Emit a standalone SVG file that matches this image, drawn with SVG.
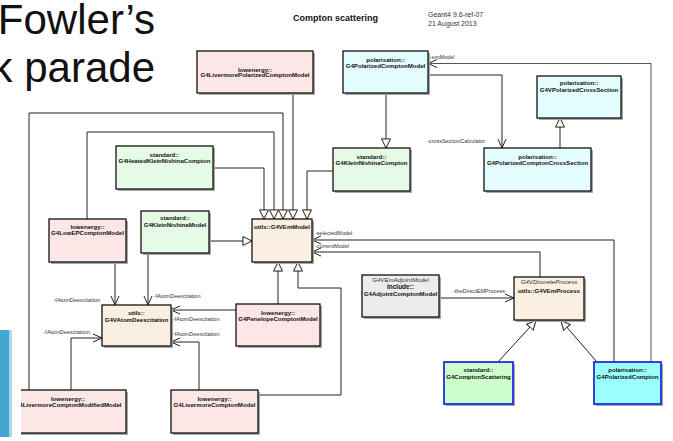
<svg xmlns="http://www.w3.org/2000/svg" width="673" height="441" viewBox="0 0 673 441">
<defs>
<style>
.sh{fill:#a8a8a8}
.b{stroke:#111;stroke-width:1.3}
.bb{stroke:#1f2fe0;stroke-width:1.8}
.pink{fill:#fde6e6}
.green{fill:#e6fbe6}
.cyan{fill:#e4fdfe}
.beige{fill:#faefe0}
.gray{fill:#ececec}
.sgreen{fill:#ccffcc}
.scyan{fill:#9bffff}
.t{font-family:"Liberation Sans",Arial,sans-serif;font-size:6.1px;font-weight:bold;text-anchor:middle;fill:#111}
.it{font-style:italic;font-weight:normal;fill:#333}
.lbl{font-family:"Liberation Sans",Arial,sans-serif;font-size:5.5px;fill:#333}
.c{fill:none;stroke:#222;stroke-width:1}
.g{marker-end:url(#tri)}
.a{marker-end:url(#arr)}
.big{font-family:"Liberation Sans",Arial,sans-serif;font-size:42px;fill:#111;text-anchor:end}
</style>
<marker id="tri" markerUnits="userSpaceOnUse" markerWidth="10" markerHeight="10" viewBox="0 0 10 10" refX="9.6" refY="5" orient="auto"><path d="M0.5,0.5 L9.6,5 L0.5,9.5 Z" fill="#fdf6ea" stroke="#222" stroke-width="1"/></marker>
<marker id="arr" markerUnits="userSpaceOnUse" markerWidth="10" markerHeight="10" viewBox="0 0 10 10" refX="9.5" refY="5" orient="auto"><path d="M0.5,1 L9.5,5 L0.5,9" fill="none" stroke="#222" stroke-width="1"/></marker>
</defs>
<rect width="673" height="441" fill="#fff"/>

<text x="293" y="21" font-family="Liberation Sans,Arial,sans-serif" font-size="9" font-weight="bold" fill="#111">Compton scattering</text>
<text x="428" y="17" font-family="Liberation Sans,Arial,sans-serif" font-size="7" fill="#333">Geant4 9.6-ref-07</text>
<text x="428" y="26" font-family="Liberation Sans,Arial,sans-serif" font-size="7" fill="#333">21 August 2013</text>

<g id="connectors">
<path class="c g" d="M213,168 H264 V219"/>
<path class="c g" d="M87,219 V132 H274 V219"/>
<path class="c g" d="M29,390 V113 H283 V219"/>
<path class="c g" d="M293,93 V219"/>
<path class="c g" d="M333,171 H307 V219"/>
<path class="c g" d="M209,241 H252"/>
<path class="c g" d="M278,304 V262"/>
<path class="c g" d="M258,395 H341 V288 H298 V262"/>
<path class="c g" d="M386,93 V148"/>
<path class="c g" d="M560,148 V118"/>
<path class="c g" d="M498,362 L536,320.5"/>
<path class="c g" d="M597,362 L561,320.5"/>
<path class="c a" d="M614,362 V240 H312"/>
<path class="c a" d="M540,277 V252 H312"/>
<path class="c a" d="M651,362 V63.5 H428" style="stroke:#555"/>
<path class="c a" d="M428,75 H502 V148"/>
<path class="c a" d="M115,262 V305"/>
<path class="c a" d="M148,253 V305"/>
<path class="c a" d="M236,310 H171"/>
<path class="c a" d="M199,390 V342 H171"/>
<path class="c a" d="M71,390 V338 H102"/>
<path class="c a" d="M439,298 H514"/>
<text class="lbl" x="430" y="59">-emModel</text>
<text class="lbl" x="485" y="143" text-anchor="end">-crossSectionCalculator</text>
<text class="lbl" x="315" y="235">-selectedModel</text>
<text class="lbl" x="315" y="248">-currentModel</text>
<text class="lbl" x="100" y="302" text-anchor="end">-fAtomDeexcitation</text>
<text class="lbl" x="154" y="298">-fAtomDeexcitation</text>
<text class="lbl" x="173" y="321">-fAtomDeexcitation</text>
<text class="lbl" x="173" y="336">-fAtomDeexcitation</text>
<text class="lbl" x="90" y="334" text-anchor="end">-fAtomDeexcitation</text>
<text class="lbl" x="453" y="293">-theDirectEMProcess</text>
</g>

<g id="LivermorePolarizedComptonModel"><rect class="sh" x="199" y="53" width="116" height="42"/><rect class="pink b" x="197" y="51" width="116" height="42"/><text class="t" x="255" y="71.5">lowenergy::</text><text class="t" x="255" y="77">G4LivermorePolarizedComptonModel</text></g>
<g id="PolarizedComptonModel"><rect class="sh" x="345" y="53" width="85" height="42"/><rect class="cyan b" x="343" y="51" width="85" height="42"/><text class="t" x="385.5" y="62">polarisation::</text><text class="t" x="385.5" y="67.7">G4PolarizedComptonModel</text></g>
<g id="VPolarizedCrossSection"><rect class="sh" x="539" y="78" width="84" height="42"/><rect class="cyan b" x="537" y="76" width="84" height="42"/><text class="t" x="579" y="85">polarisation::</text><text class="t" x="579" y="91.5">G4VPolarizedCrossSection</text></g>
<g id="KleinNishinaCompton"><rect class="sh" x="335" y="150" width="77" height="43"/><rect class="green b" x="333" y="148" width="77" height="43"/><text class="t" x="371.5" y="159">standard::</text><text class="t" x="371.5" y="165">G4KleinNishinaCompton</text></g>
<g id="PolarizedComptonCrossSection"><rect class="sh" x="486" y="150" width="107" height="43"/><rect class="cyan b" x="484" y="148" width="107" height="43"/><text class="t" x="537.5" y="159">polarisation::</text><text class="t" x="537.5" y="165">G4PolarizedComptonCrossSection</text></g>
<g id="HeatedKleinNishinaCompton"><rect class="sh" x="118" y="148" width="97" height="43"/><rect class="green b" x="116" y="146" width="97" height="43"/><text class="t" x="164.5" y="157">standard::</text><text class="t" x="164.5" y="163">G4HeatedKleinNishinaCompton</text></g>
<g id="LowEPComptonModel"><rect class="sh" x="51" y="221" width="77" height="43"/><rect class="pink b" x="49" y="219" width="77" height="43"/><text class="t" x="87.5" y="229">lowenergy::</text><text class="t" x="87.5" y="235">G4LowEPComptonModel</text></g>
<g id="KleinNishinaModel"><rect class="sh" x="143" y="213" width="68" height="42"/><rect class="green b" x="141" y="211" width="68" height="42"/><text class="t" x="175" y="220">standard::</text><text class="t" x="175" y="227">G4KleinNishinaModel</text></g>
<g id="VEmModel"><rect class="sh" x="254" y="221" width="60" height="43"/><rect class="beige b" x="252" y="219" width="60" height="43"/><text class="t" x="282" y="229">utils::G4VEmModel</text></g>
<g id="VAtomDeexcitation"><rect class="sh" x="104" y="307" width="69" height="41"/><rect class="beige b" x="102" y="305" width="69" height="41"/><text class="t" x="136.5" y="315">utils::</text><text class="t" x="136.5" y="322">G4VAtomDeexcitation</text></g>
<g id="PenelopeComptonModel"><rect class="sh" x="238" y="306" width="84" height="42"/><rect class="pink b" x="236" y="304" width="84" height="42"/><text class="t" x="278" y="315">lowenergy::</text><text class="t" x="278" y="321">G4PenelopeComptonModel</text></g>
<g id="LivermoreComptonModifiedModel"><rect class="sh" x="12" y="392" width="116" height="43"/><rect class="pink b" x="10" y="390" width="116" height="43"/><text class="t" x="68" y="401">lowenergy::</text><text class="t" x="68" y="407">G4LivermoreComptonModifiedModel</text></g>
<g id="LivermoreComptonModel"><rect class="sh" x="173" y="392" width="87" height="43"/><rect class="pink b" x="171" y="390" width="87" height="43"/><text class="t" x="214.5" y="401">lowenergy::</text><text class="t" x="214.5" y="407">G4LivermoreComptonModel</text></g>
<g id="AdjointComptonModel"><rect class="sh" x="364" y="277" width="77" height="42"/><rect class="gray b" x="362" y="275" width="77" height="42"/><text class="t it" x="400.5" y="281.5">G4VEmAdjointModel</text><text class="t" x="400.5" y="289" style="font-size:6.5px">include::</text><text class="t" x="400.5" y="296">G4AdjointComptonModel</text></g>
<g id="VEmProcess"><rect class="sh" x="516" y="279" width="70" height="43"/><rect class="beige b" x="514" y="277" width="70" height="43"/><text class="t it" x="549" y="284">G4VDiscreteProcess</text><text class="t" x="549" y="293">utils::G4VEmProcess</text></g>
<g id="ComptonScattering"><rect class="sh" x="446" y="364" width="69" height="42"/><rect class="sgreen bb" x="444" y="362" width="69" height="42"/><text class="t" x="478.5" y="372">standard::</text><text class="t" x="478.5" y="379">G4ComptonScattering</text></g>
<g id="PolarizedCompton"><rect class="sh" x="596" y="364" width="67" height="42"/><rect class="scyan bb" x="594" y="362" width="67" height="42"/><text class="t" x="627.5" y="372">polarisation::</text><text class="t" x="627.5" y="379">G4PolarizedCompton</text></g>

<rect x="0" y="0" width="21" height="441" fill="#fff"/>
<rect x="0" y="330" width="12" height="107" fill="#44a6d0"/>
<rect x="9" y="330" width="3" height="107" fill="#a8d8ea"/>
<text class="big" x="155" y="34">Fowler’s</text>
<text class="big" x="155" y="82">k parade</text>
</svg>
